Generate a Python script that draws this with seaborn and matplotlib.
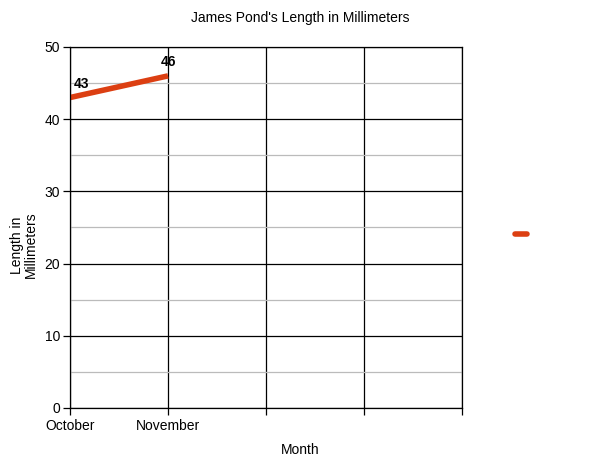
import matplotlib
matplotlib.use("Agg")
import matplotlib.pyplot as plt
from matplotlib.lines import Line2D
import seaborn as sns
import pandas as pd

# data
months = ["October", "November", "", "", ""]
lengths = [43, 46]
y_ticks = [0, 10, 20, 30, 40, 50]
line_color = "#dc3f12"

df = pd.DataFrame({"pos": list(range(len(lengths))), "length": lengths})

sns.set_style("white")
plt.rcParams["font.family"] = ["Liberation Sans", "DejaVu Sans"]
for key in ["text.color", "axes.labelcolor", "xtick.color", "ytick.color"]:
    plt.rcParams[key] = "black"

fig = plt.figure(figsize=(6, 4.63), dpi=100)
ax = fig.add_axes([0.1167, 0.1188, 0.6533, 0.7797])

sns.lineplot(data=df, x="pos", y="length", color=line_color, linewidth=4,
             ax=ax, legend=False, solid_capstyle="butt")

# labels over the points
for x, y in zip(df["pos"], df["length"]):
    ax.annotate(str(y), (x, y), xytext=(3 if x == 0 else 0, 5),
                textcoords="offset points",
                ha="center" if x > 0 else "left", va="bottom",
                fontsize=10, fontweight="bold", color="black")

ax.set_xlim(0, len(months) - 1)
ax.set_ylim(0, 50)
ax.set_xticks(range(len(months)))
ax.set_xticklabels(months, fontsize=10)
ax.set_yticks(y_ticks)
ax.set_yticklabels([str(v) for v in y_ticks], fontsize=10)
ax.set_yticks([5, 15, 25, 35, 45], minor=True)

ax.grid(which="major", axis="both", color="black", linewidth=0.9)
ax.grid(which="minor", axis="y", color="#bbbbbb", linewidth=0.9)
ax.set_axisbelow(True)
for s in ax.spines.values():
    s.set_color("black")
    s.set_linewidth(0.9)

ax.tick_params(axis="both", which="major", length=5, width=0.9, color="black",
               direction="out", pad=2, bottom=True, left=True)
ax.tick_params(axis="y", which="minor", length=0, left=False)
ax.tick_params(axis="x", which="major", pad=3)

ax.set_xlabel("")
ax.set_ylabel("")
fig.text(0.5, 1 - 450 / 463, "Month", ha="center", va="center", fontsize=10)
fig.text(0.04, 1 - 245 / 463, "Length in\nMillimeters", ha="center", va="center",
         rotation=90, fontsize=10, linespacing=1.0)
fig.text(0.5, 1 - 18 / 463, "James Pond's Length in Millimeters",
         ha="center", va="center", fontsize=10)

# legend with a single entry, no visible label
handle = Line2D([0], [0], color=line_color, linewidth=4)
fig.legend([handle], [""], loc="center", bbox_to_anchor=(0.868, 0.492),
           frameon=False, handlelength=0.9, handletextpad=0)

fig.savefig("out.png", dpi=100)
